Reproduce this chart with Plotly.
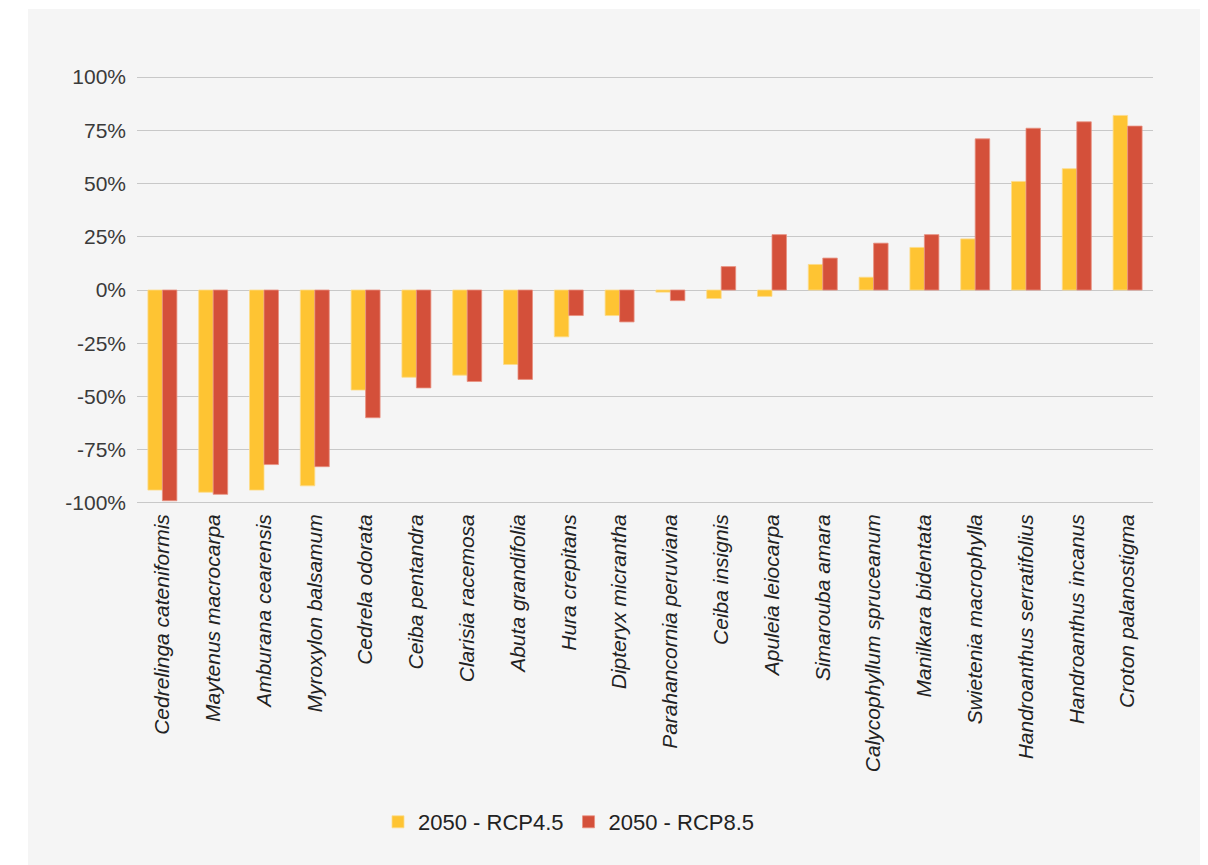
import plotly.graph_objects as go

species = [
    "Cedrelinga cateniformis", "Maytenus macrocarpa", "Amburana cearensis",
    "Myroxylon balsamum", "Cedrela odorata", "Ceiba pentandra",
    "Clarisia racemosa", "Abuta grandifolia", "Hura crepitans",
    "Dipteryx micrantha", "Parahancornia peruviana", "Ceiba insignis",
    "Apuleia leiocarpa", "Simarouba amara", "Calycophyllum spruceanum",
    "Manilkara bidentata", "Swietenia macrophylla", "Handroanthus serratifolius",
    "Handroanthus incanus", "Croton palanostigma",
]
rcp45 = [-94, -95, -94, -92, -47, -41, -40, -35, -22, -12,
         -1, -4, -3, 12, 6, 20, 24, 51, 57, 82]
rcp85 = [-99, -96, -82, -83, -60, -46, -43, -42, -12, -15,
         -5, 11, 26, 15, 22, 26, 71, 76, 79, 77]
y_ticks = [-100, -75, -50, -25, 0, 25, 50, 75, 100]
y_labels = [f"{v}%" for v in y_ticks]

# page has an 8px body margin; compensate
OFF = 8
W, H = 1208, 865
L, T = 137 - OFF, 77 - 2 - OFF
pw = 1016
ph = 430
R = W - L - pw
B = H - T - ph

def px_x(x):
    return (x - OFF - L) / pw

def px_y(y):
    return (H - B - (y - OFF)) / ph

FONT = "Liberation Sans, Arial, Helvetica, sans-serif"

fig = go.Figure()
fig.add_trace(go.Bar(
    x=species, y=rcp45, name="2050 - RCP4.5",
    marker=dict(color="#FEC433", line=dict(color="#FDDC8A", width=0.8)),
))
fig.add_trace(go.Bar(
    x=species, y=rcp85, name="2050 - RCP8.5",
    marker=dict(color="#D4503A", line=dict(color="#E89080", width=0.8)),
))

fig.add_shape(type="rect", xref="paper", yref="paper",
              x0=px_x(28), x1=px_x(1200), y0=px_y(900), y1=px_y(9),
              fillcolor="#F5F5F5", line=dict(width=0), layer="below")

fig.update_layout(
    width=W, height=H,
    margin=dict(l=L, r=R, t=T, b=B, autoexpand=False),
    paper_bgcolor="white",
    plot_bgcolor="rgba(0,0,0,0)",
    barmode="group", bargap=0.43, bargroupgap=0,
    font=dict(family=FONT, color="#333"),
    legend=dict(
        orientation="h", xref="container", yref="container",
        x=(569 - OFF) / W, y=1 - (822 - OFF) / H,
        xanchor="center", yanchor="middle",
        font=dict(size=22, color="#222", family=FONT), itemwidth=30,
        traceorder="normal", bgcolor="rgba(0,0,0,0)",
    ),
    xaxis=dict(
        tickangle=-90, automargin=False, showgrid=False,
        tickfont=dict(size=21, style="italic", color="#222", family=FONT),
        ticks="", showline=False, ticklabelstandoff=4,
    ),
    yaxis=dict(
        range=[-101, 101], tickvals=y_ticks, ticktext=y_labels,
        automargin=False, showgrid=True, gridcolor="#C8C8C8", gridwidth=1,
        zeroline=True, zerolinecolor="#C8C8C8", zerolinewidth=1,
        tickfont=dict(size=21, color="#3a3a3a", family=FONT), ticklabelstandoff=10,
        showline=False,
    ),
)

fig.write_html("out.html")
